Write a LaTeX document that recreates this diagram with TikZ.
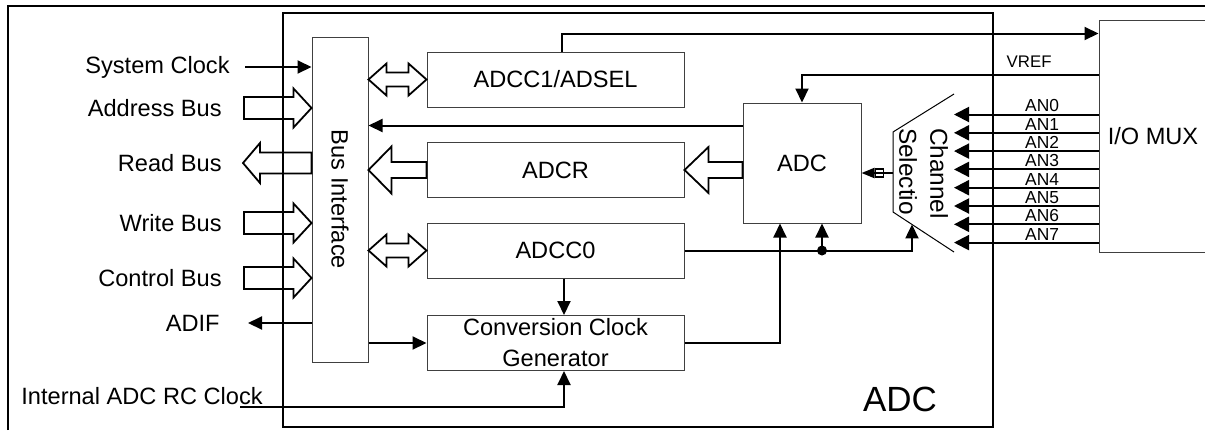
\documentclass[tikz,border=0pt]{standalone}
\usepackage{fontspec}
\setmainfont{Liberation Sans}
\usepackage{tikz}
\usetikzlibrary{arrows.meta,positioning,calc}

% hollow bus arrow: start, tip, shaft half width, head half width, head length
\newcommand{\busarrow}[5]{%
  \draw [hollow] let \p1=(#1), \p2=(#2), \p3=($(#2)!#5!(#1)$) in
    (\x1,\y2+#3) -- (\x3,\y2+#3) -- (\x3,\y2+#4) -- (\x2,\y2)
    -- (\x3,\y2-#4) -- (\x3,\y2-#3) -- (\x1,\y2-#3) -- cycle;}
% hollow bus arrow with a head at both ends
\newcommand{\busdouble}[2]{%
  \draw [hollow] let \p1=(#1), \p2=(#2), \p3=($(#1)!9pt!(#2)$), \p4=($(#2)!9pt!(#1)$) in
    (\x1,\y1) -- (\x3,\y1+8pt) -- (\x3,\y1+3.5pt) -- (\x4,\y1+3.5pt) -- (\x4,\y1+8pt) -- (\x2,\y1)
    -- (\x4,\y1-8pt) -- (\x4,\y1-3.5pt) -- (\x3,\y1-3.5pt) -- (\x3,\y1-8pt) -- cycle;}

\begin{document}
\begin{tikzpicture}[x=0.5pt, y=-0.5pt, font=\fontsize{11.8}{14}\selectfont]

\tikzstyle{block} = [rectangle, draw=black!75, line width=0.5pt, minimum width=128.5pt, minimum height=27.5pt, inner sep=0pt, text centered]
\tikzstyle{lbl} = [inner sep=1pt]
\tikzstyle{arrow} = [line width=1pt, -{Triangle[length=7pt,width=6.5pt]}]
\tikzstyle{hollow} = [line width=0.9pt, line join=miter]
\tikzstyle{frame} = [line width=1pt]

\useasboundingbox (0,0) rectangle (1205,430);
\clip (0,0) rectangle (1205,430);

% frames
\draw [frame] (8,430) -- (8,6) -- (1205,6);
\node (adcbox) [draw, frame, minimum width=355pt, minimum height=207pt, inner sep=0pt] at (638,220) {};
\node [font=\fontsize{17.5}{20}\selectfont] at ($(adcbox.south east)+(-94,-29)$) {ADC};

% blocks
\node (bus) [block, minimum width=28pt, minimum height=162.5pt] at (340,199.5) {};
\node [rotate=-90] at (bus.center) {Bus Interface};
\node (a1) [block] at (555.5,79.5) {ADCC1/ADSEL};
\node (adcr) [block] at (555.5,170) {ADCR};
\node (a0) [block] at (555.5,250.5) {ADCC0};
\node (ccg) [block, align=center, font=\fontsize{11.8}{15.5}\selectfont] at (555.5,343) {Conversion Clock\\Generator};
\node (adc) [block, minimum width=59pt, minimum height=60pt] at (802,163) {ADC};
\node (io) [block, minimum width=54pt, minimum height=116pt] at (1153,136) {I/O MUX};

% channel selection
\coordinate (csTR) at (954,94);
\coordinate (csTL) at (893,132);
\coordinate (csBL) at (893,212);
\coordinate (csBR) at (954,252);
\draw [line width=0.5pt] (csTR) -- (csTL) -- (csBL) -- (csBR);
\node (cs) [rotate=-90, align=left, inner sep=0pt, font=\fontsize{12.2}{15.5}\selectfont] at (923.5,173.5) {Channel\\Selectio};

% left side signals
\coordinate (sc) at (245,67);
\node [lbl, left=6.5pt of sc] {System Clock};
\draw [arrow] (sc) -- (sc -| bus.west);
\coordinate (ab) at (244,108);
\node [lbl, left=10pt of ab] {Address Bus};
\busarrow{ab}{ab -| bus.west}{5.5pt}{9.75pt}{9pt}
\coordinate (rb) at (243,163);
\node [lbl, left=9.5pt of rb] {Read Bus};
\busarrow{rb -| bus.west}{rb}{5.25pt}{10pt}{8.5pt}
\coordinate (wb) at (244,223);
\node [lbl, left=10pt of wb] {Write Bus};
\busarrow{wb}{wb -| bus.west}{5.5pt}{9.75pt}{9pt}
\coordinate (cb) at (244,278);
\node [lbl, left=10pt of cb] {Control Bus};
\busarrow{cb}{cb -| bus.west}{5.5pt}{9.75pt}{9pt}
\coordinate (adif) at (248,323);
\node [lbl, left=13pt of adif] {ADIF};
\draw [arrow] (adif -| bus.west) -- (adif);
\coordinate (rc) at (240,407);
\node [lbl, anchor=base west] at (19,404) {Internal ADC RC Clock};
\draw [arrow] (rc) -| ([xshift=4.25pt]ccg.south);

% inner connections
\busdouble{a1.west -| bus.east}{a1.west}
\busdouble{a0.west -| bus.east}{a0.west}
\busarrow{adcr.east -| adc.west}{adcr.east}{4pt}{11.5pt}{12pt}
\busarrow{adcr.west}{adcr.west -| bus.east}{4pt}{11.75pt}{11.5pt}
\coordinate (adcL) at ($(adc.north west)+(0,23)$);
\draw [arrow] (adcL) -- (adcL -| bus.east);
\draw [arrow] (ccg.west -| bus.east) -- (ccg.west);
\draw [arrow] ([xshift=4.25pt]a0.south) -- ([xshift=4.25pt]ccg.north);
\draw [arrow] (ccg.east) -| ([xshift=-11pt]adc.south);
\coordinate (csin) at ($(csBL)!0.311!(csBR)$);
\draw [arrow] (a0.east) -| (csin);
\coordinate (jn) at ($(a0.east -| adc.south)+(20,0)$);
\fill (jn) circle (2.5pt);
\draw [arrow] (jn) -- (jn |- adc.south);
\coordinate (csL) at ($(csTL)!0.5125!(csBL)$);
\draw [line width=1pt, -{Triangle[length=6.5pt,width=5pt]}] (csL) -- (csL -| adc.east);
\draw [line width=0.7pt] ($(csL -| adc.east)+(14,-4)$) rectangle ++(8,8);

% to and from the I/O MUX
\draw [arrow] ([xshift=3.25pt]a1.north) |- ($(io.north west)+(0,14)$);
\coordinate (vr) at ($(io.north west)+(0,55)$);
\draw [arrow] (vr) -| (adc.north) node [pos=0.117, above, inner sep=3pt, font=\fontsize{8.4}{10}\selectfont] {VREF};
\foreach \i in {0,...,7} {
  \draw [line width=1pt, -{Triangle[length=7.5pt,width=7.5pt]}] ($(io.north west)+(0,95+18.3*\i)$) coordinate (an\i) -- (an\i -| csTR)
    node [pos=0.39, above, inner sep=0.75pt, font=\fontsize{8.7}{10}\selectfont] {AN\i};
}
\end{tikzpicture}
\end{document}
